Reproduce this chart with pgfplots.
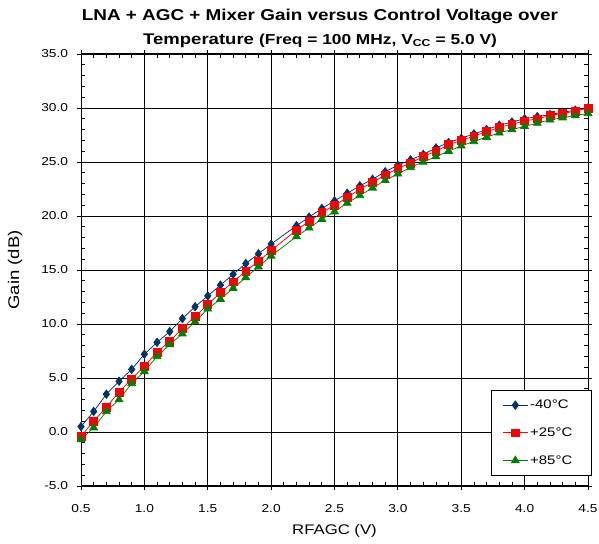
\documentclass[border=0pt]{standalone}
\usepackage{fontspec}
\setmainfont{Liberation Sans}[FakeStretch=1.2]
\usepackage{pgfplots}
\usepackage{pgfplotstable}
\pgfplotsset{compat=1.18}
\definecolor{cBlue}{RGB}{0,51,102}
\definecolor{cRed}{RGB}{255,0,0}
\definecolor{cGreen}{RGB}{0,128,0}
\pgfplotstableread{
x y
0.5 0.5
0.6 1.9
0.7 3.5
0.8 4.7
0.9 5.8
1.0 7.2
1.1 8.3
1.2 9.3
1.3 10.5
1.4 11.6
1.5 12.6
1.6 13.6
1.7 14.6
1.8 15.6
1.9 16.5
2.0 17.4
2.2 19.1
2.3 19.9
2.4 20.7
2.5 21.4
2.6 22.1
2.7 22.8
2.8 23.4
2.9 24.1
3.0 24.7
3.1 25.2
3.2 25.7
3.3 26.3
3.4 26.8
3.5 27.2
3.6 27.6
3.7 28.0
3.8 28.4
3.9 28.7
4.0 29.0
4.1 29.2
4.2 29.4
4.3 29.6
4.4 29.8
4.5 30.0
}\tblue
\pgfplotstableread{
x y
0.5 -0.4
0.6 1.0
0.7 2.3
0.8 3.7
0.9 4.9
1.0 6.1
1.1 7.4
1.2 8.4
1.3 9.6
1.4 10.7
1.5 11.8
1.6 12.9
1.7 13.9
1.8 14.9
1.9 15.8
2.0 16.8
2.2 18.7
2.3 19.5
2.4 20.3
2.5 21.0
2.6 21.7
2.7 22.5
2.8 23.1
2.9 23.8
3.0 24.4
3.1 24.9
3.2 25.5
3.3 26.0
3.4 26.6
3.5 27.0
3.6 27.4
3.7 27.8
3.8 28.2
3.9 28.5
4.0 28.8
4.1 29.0
4.2 29.3
4.3 29.5
4.4 29.7
4.5 30.0
}\tred
\pgfplotstableread{
x y
0.5 -0.7
0.6 0.4
0.7 1.9
0.8 3.0
0.9 4.5
1.0 5.6
1.1 7.0
1.2 8.1
1.3 9.1
1.4 10.2
1.5 11.4
1.6 12.3
1.7 13.3
1.8 14.3
1.9 15.3
2.0 16.3
2.2 18.1
2.3 18.9
2.4 19.7
2.5 20.4
2.6 21.2
2.7 21.9
2.8 22.6
2.9 23.3
3.0 23.9
3.1 24.5
3.2 25.0
3.3 25.5
3.4 26.0
3.5 26.5
3.6 26.9
3.7 27.3
3.8 27.7
3.9 28.0
4.0 28.3
4.1 28.6
4.2 28.9
4.3 29.1
4.4 29.3
4.5 29.5
}\tgreen
\begin{document}
\begin{tikzpicture}[x=1bp,y=1bp]
\useasboundingbox (0,0) rectangle (599,544);
\begin{axis}[
  at={(81bp,58bp)}, anchor=south west,
  scale only axis, width=507bp, height=432bp,
  xmin=0.5, xmax=4.5, ymin=-5, ymax=35,
  xtick={0.5,1,...,4.5}, ytick={-5,0,...,35},
  minor x tick num=4, minor y tick num=4,
  clip=false,
  grid=major, major grid style={black, line width=0.9bp},
  axis line style={black, line width=1bp},
  tick style={black, line width=0.8bp},
  tick align=inside, major tick length=4bp, minor tick length=4bp,
  extra x ticks={0.5,1,...,4.5}, extra y ticks={-5,0,...,35},
  extra x tick labels={}, extra y tick labels={},
  extra tick style={tick align=outside, major tick length=4bp, grid=none},
  xticklabel style={font=\fontsize{11.5}{13}\selectfont, anchor=base, inner sep=0pt, yshift=-26.7bp},
  yticklabel style={font=\fontsize{11.5}{13}\selectfont, anchor=east, inner sep=0pt, xshift=-12.7bp},
  /pgf/number format/.cd, fixed, fixed zerofill, precision=1, assume math mode=true, /pgfplots/.cd,
  xlabel={RFAGC (V)}, ylabel={Gain (dB)},
  xlabel style={at={(axis description cs:0.5,-0.1118)}, anchor=base, inner sep=0pt, font=\fontsize{14}{16}\selectfont},
  ylabel style={at={(axis description cs:-0.13,0.5)}, anchor=center, inner sep=0pt, font=\fontsize{15.5}{17}\selectfont},
  legend style={at={(axis description cs:1.0073,0.0231)}, anchor=south east, draw=black, line width=0.8bp, fill=white,
    font=\fontsize{12.5}{14}\selectfont, inner xsep=11bp, inner ysep=8bp, row sep=13.5bp, cells={anchor=west}},
  legend cell align=left,
  legend image code/.code={\draw[mark repeat=2,mark phase=2,#1] plot coordinates {(0bp,0bp) (12.5bp,0bp) (25bp,0bp)};},
]
\addplot[cBlue, line width=0.75bp, mark=diamond*, mark size=4.2bp, mark options={solid, fill=cBlue, draw=cBlue}] table[x=x,y=y] {\tblue};
\addlegendentry{-40°C\hspace*{6bp}}
\addplot[cRed, line width=0.75bp, mark=square*, mark size=3.9bp, mark options={solid, fill=cRed, draw=cRed}] table[x=x,y=y] {\tred};
\addlegendentry{+25°C\hspace*{6bp}}
\addplot[cGreen, line width=0.75bp, mark=triangle*, mark size=4.5bp, mark options={solid, fill=cGreen, draw=cGreen}] table[x=x,y=y] {\tgreen};
\addlegendentry{+85°C\hspace*{6bp}}
\node[anchor=base, yshift=33.3bp, font=\fontsize{15.8}{18}\selectfont\bfseries] at (rel axis cs:0.4714,1) {LNA + AGC + Mixer Gain versus Control Voltage over};
\node[anchor=base, yshift=9.7bp, font=\fontsize{15.5}{18}\selectfont\bfseries] at (rel axis cs:0.4714,1) {Temperature {\fontsize{14.5}{17}\selectfont (Freq = 100 MHz, V\textsubscript{CC} = 5.0 V)}};
\end{axis}
\end{tikzpicture}
\end{document}
